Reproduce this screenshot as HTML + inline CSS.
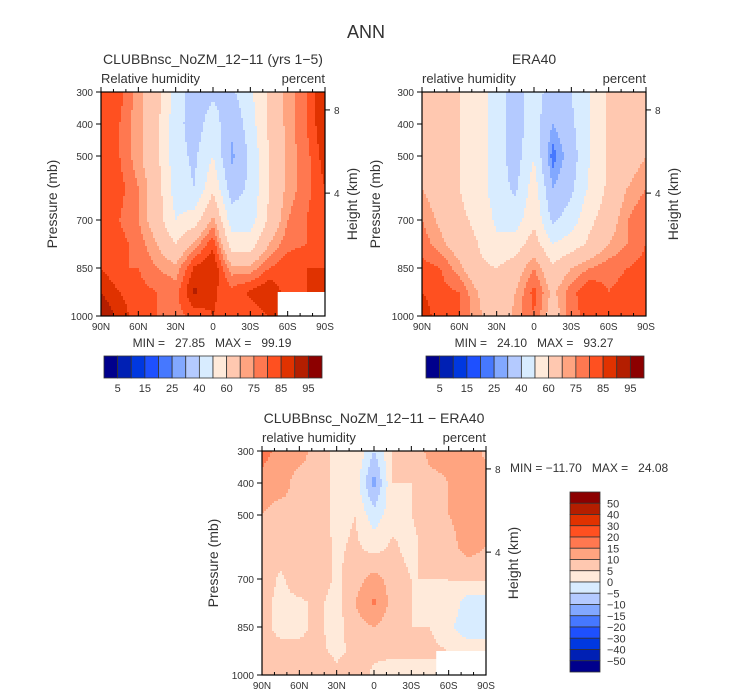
<!DOCTYPE html>
<html><head><meta charset="utf-8"><style>
body{margin:0;background:#fff;}
svg{display:block;font-family:"Liberation Sans",sans-serif;}
text{fill:#333;white-space:pre;}
</style></head><body>
<svg id="s" width="733" height="699" viewBox="0 0 733 699">
<text x="366" y="38" font-size="18" text-anchor="middle">ANN</text>
</svg>
<script>
// ---- data ----
const lats = [90,75,60,45,30,15,0,-15,-30,-45,-60,-75,-90];
const levels = [300,400,500,600,700,775,850,925,1000];
const rhModel = [
[80,82,72,65,45,35,38,38,48,62,72,80,90],
[82,80,72,62,44,35,45,32,45,62,72,80,90],
[82,80,72,62,44,38,50,28,42,60,72,78,88],
[82,82,75,65,45,40,58,35,42,60,72,78,85],
[82,80,75,65,50,55,72,45,45,62,75,80,85],
[85,82,78,70,60,72,84,55,55,70,78,80,85],
[85,80,80,75,72,86,90,72,72,80,84,85,85],
[90,85,82,80,78,91,86,82,86,90,82,85,85],
[95,88,82,80,78,82,85,82,82,85,88,88,85]];
const rhObs = [
[65,65,60,55,45,35,45,35,40,50,62,62,70],
[70,65,60,55,45,35,45,30,38,50,62,62,70],
[70,65,60,55,45,35,50,22,35,50,62,65,70],
[70,65,60,55,45,38,55,30,38,52,62,70,75],
[75,68,62,58,48,45,58,38,45,58,65,75,80],
[78,72,65,60,52,55,65,50,55,62,70,75,80],
[82,80,72,62,60,65,75,62,70,75,78,80,82],
[85,82,80,70,62,70,82,68,78,85,80,82,82],
[88,82,80,72,62,72,80,65,78,82,80,82,80]];
const rhDiff = [
[18,12,12,8,3,5,-5,5,5,12,12,15,8],
[12,12,8,8,3,3,-12,5,5,8,10,12,15],
[10,8,10,8,3,5,-3,3,5,8,10,12,10],
[8,8,8,8,4,6,3,6,3,8,8,12,10],
[8,4,8,8,4,8,12,8,5,5,5,6,6],
[6,4,4,6,3,10,16,8,5,3,5,-3,-3],
[6,4,4,6,3,8,10,7,5,5,2,-5,-5],
[6,6,6,6,4,6,6,6,6,6,5,5,5],
[5,6,6,10,6,8,4,3,3,3,5,5,5]];
const rhBounds = [5,10,15,20,25,30,40,50,60,70,75,80,85,90,95];
const rhLabels = ["5","15","25","40","60","75","85","95"];
const diffBounds = [-50,-40,-30,-20,-15,-10,-5,0,5,10,15,20,30,40,50];
const diffLabels = ["50","40","30","20","15","10","5","0","\u22125","\u221210","\u221215","\u221220","\u221230","\u221240","\u221250"];
const pTicks = [300,400,500,700,850,1000];
const latTicks = [90,60,30,0,-30,-60,-90];
const latTickLabels = ["90N","60N","30N","0","30S","60S","90S"];
const hTicks = [{km:8,p:356},{km:4,p:616}];
const palette = ["#00008c","#0020b4","#0038e0","#1e50ff","#4678ff","#82a8ff","#b4caff","#d8ecff","#ffeada","#ffc8b0","#ffa480","#ff7850","#ff5020","#e03200","#b41e00","#8c0000"];

const NS="http://www.w3.org/2000/svg";
const svg=document.getElementById('s');
function mk(tag,attrs,parent){const e=document.createElementNS(NS,tag);for(const k in attrs)e.setAttribute(k,attrs[k]);(parent||svg).appendChild(e);return e;}
function colorFor(v,b){let i=0;while(i<b.length&&v>=b[i])i++;return palette[i];}
function sample(grid,lat,p){
  let c=(90-lat)/15; let ci=Math.min(Math.floor(c),11); let cf=c-ci;
  let r=0; while(r<levels.length-2&&p>levels[r+1])r++;
  let rf=(p-levels[r])/(levels[r+1]-levels[r]);
  const a=grid[r][ci],b=grid[r][ci+1],d=grid[r+1][ci],e=grid[r+1][ci+1];
  return (a*(1-cf)+b*cf)*(1-rf)+(d*(1-cf)+e*cf)*rf;
}
function panel(name,x0,y0,grid,bounds,title,left,right,mask,plabX,hlabX){
  const W=224,H=224;
  const X=lat=>x0+(90-lat)/180*W;
  const Y=p=>y0+(p-300)/700*H;
  const g=mk('g',{},svg);
  
  
  const st=2;
  for(let px=0;px<W;px+=st){for(let py=0;py<H;py+=st){
    const lat=90-(px+st/2)/W*180, p=300+(py+st/2)/H*700;
    mk('rect',{x:x0+px,y:y0+py,width:st+0.3,height:st+0.3,fill:colorFor(sample(grid,lat,p),bounds)},g);
  }}
  if(mask){const m=mk('rect',{x:X(mask[0]),y:Y(mask[1]),width:X(-90)-X(mask[0]),height:Y(1000)-Y(mask[1]),fill:'#fff'},svg);
    
    }
  mk('rect',{x:x0,y:y0,width:W,height:H,fill:'none',stroke:'#000','stroke-width':1.2},svg);
  const t=mk('text',{x:x0+W/2,y:y0-28,'font-size':14,'text-anchor':'middle'},svg);t.textContent=title;
  
  
  const l=mk('text',{x:x0,y:y0-9,'font-size':13},svg);l.textContent=left;
  
  
  const u=mk('text',{x:x0+W,y:y0-9,'font-size':13,'text-anchor':'end'},svg);u.textContent=right;
  
  
  for(let lat=90;lat>=-90;lat-=10){const maj=lat%30===0;
    mk('line',{x1:X(lat),x2:X(lat),y1:y0,y2:y0-(maj?5:3),stroke:'#000'},svg);
    mk('line',{x1:X(lat),x2:X(lat),y1:y0+H,y2:y0+H-(maj?5:3),stroke:'#000'},svg);}
  latTicks.forEach((lat,i)=>{const tx=mk('text',{x:X(lat),y:y0+H+14,'font-size':10,'text-anchor':'middle'},svg);tx.textContent=latTickLabels[i];
    
    });
  pTicks.forEach(p=>{mk('line',{x1:x0,x2:x0-5,y1:Y(p),y2:Y(p),stroke:'#000'},svg);
    const tx=mk('text',{x:x0-8,y:Y(p)+4,'font-size':10,'text-anchor':'end'},svg);tx.textContent=p;
    
    });
  hTicks.forEach(h=>{mk('line',{x1:x0+W,x2:x0+W+5,y1:Y(h.p),y2:Y(h.p),stroke:'#000'},svg);
    const tx=mk('text',{x:x0+W+9,y:Y(h.p)+4,'font-size':10},svg);tx.textContent=h.km;
    
    });
  const pl=mk('text',{x:plabX,y:y0+H/2,'font-size':14,'text-anchor':'middle',transform:`rotate(-90 ${plabX} ${y0+H/2})`},svg);pl.textContent='Pressure (mb)';
  
  
  const hl=mk('text',{x:hlabX,y:y0+H/2,'font-size':14,'text-anchor':'middle',transform:`rotate(-90 ${hlabX} ${y0+H/2})`},svg);hl.textContent='Height (km)';
  
  
}
function stat(x,y,txt,anchor){const t=mk('text',{x:x,y:y,'font-size':12,'text-anchor':anchor||'middle'},svg);t.textContent=txt;
  
  }
function hbar(x0,y0){const w=218/16;
  for(let i=0;i<16;i++){const r=mk('rect',{x:x0+i*w,y:y0,width:w,height:22,fill:palette[i],stroke:'#333','stroke-width':0.8},svg);
    
    }
  rhLabels.forEach((s,i)=>{const t=mk('text',{x:x0+(2*i+1)*w,y:y0+36,'font-size':11,'text-anchor':'middle'},svg);t.textContent=s;
    
    });}

panel('model-panel',101,92,rhModel,rhBounds,'CLUBBnsc_NoZM_12\u221211 (yrs 1\u22125)','Relative humidity','percent',[-52,925],57,357);
panel('obs-panel',422,92,rhObs,rhBounds,'ERA40','relative humidity','percent',null,380,678);
panel('diff-panel',262,451,rhDiff,diffBounds,'CLUBBnsc_NoZM_12\u221211 \u2212 ERA40','relative humidity','percent',[-50,925],218,518);
stat(212,347,'MIN =   27.85   MAX =   99.19');
stat(534,347,'MIN =   24.10   MAX =   93.27');
stat(510,472,'MIN = \u221211.70   MAX =   24.08','start');
hbar(104,356);
hbar(426,356);
// vertical colorbar
(function(){const x0=570,y0=492,h=180/16;
  for(let i=0;i<16;i++){const r=mk('rect',{x:x0,y:y0+i*h,width:30,height:h,fill:palette[15-i],stroke:'#333','stroke-width':0.8},svg);
    
    }
  diffLabels.forEach((s,i)=>{const t=mk('text',{x:x0+37,y:y0+(i+1)*h+4,'font-size':11},svg);t.textContent=s;
    
    });
})();
</script>
</body></html>
